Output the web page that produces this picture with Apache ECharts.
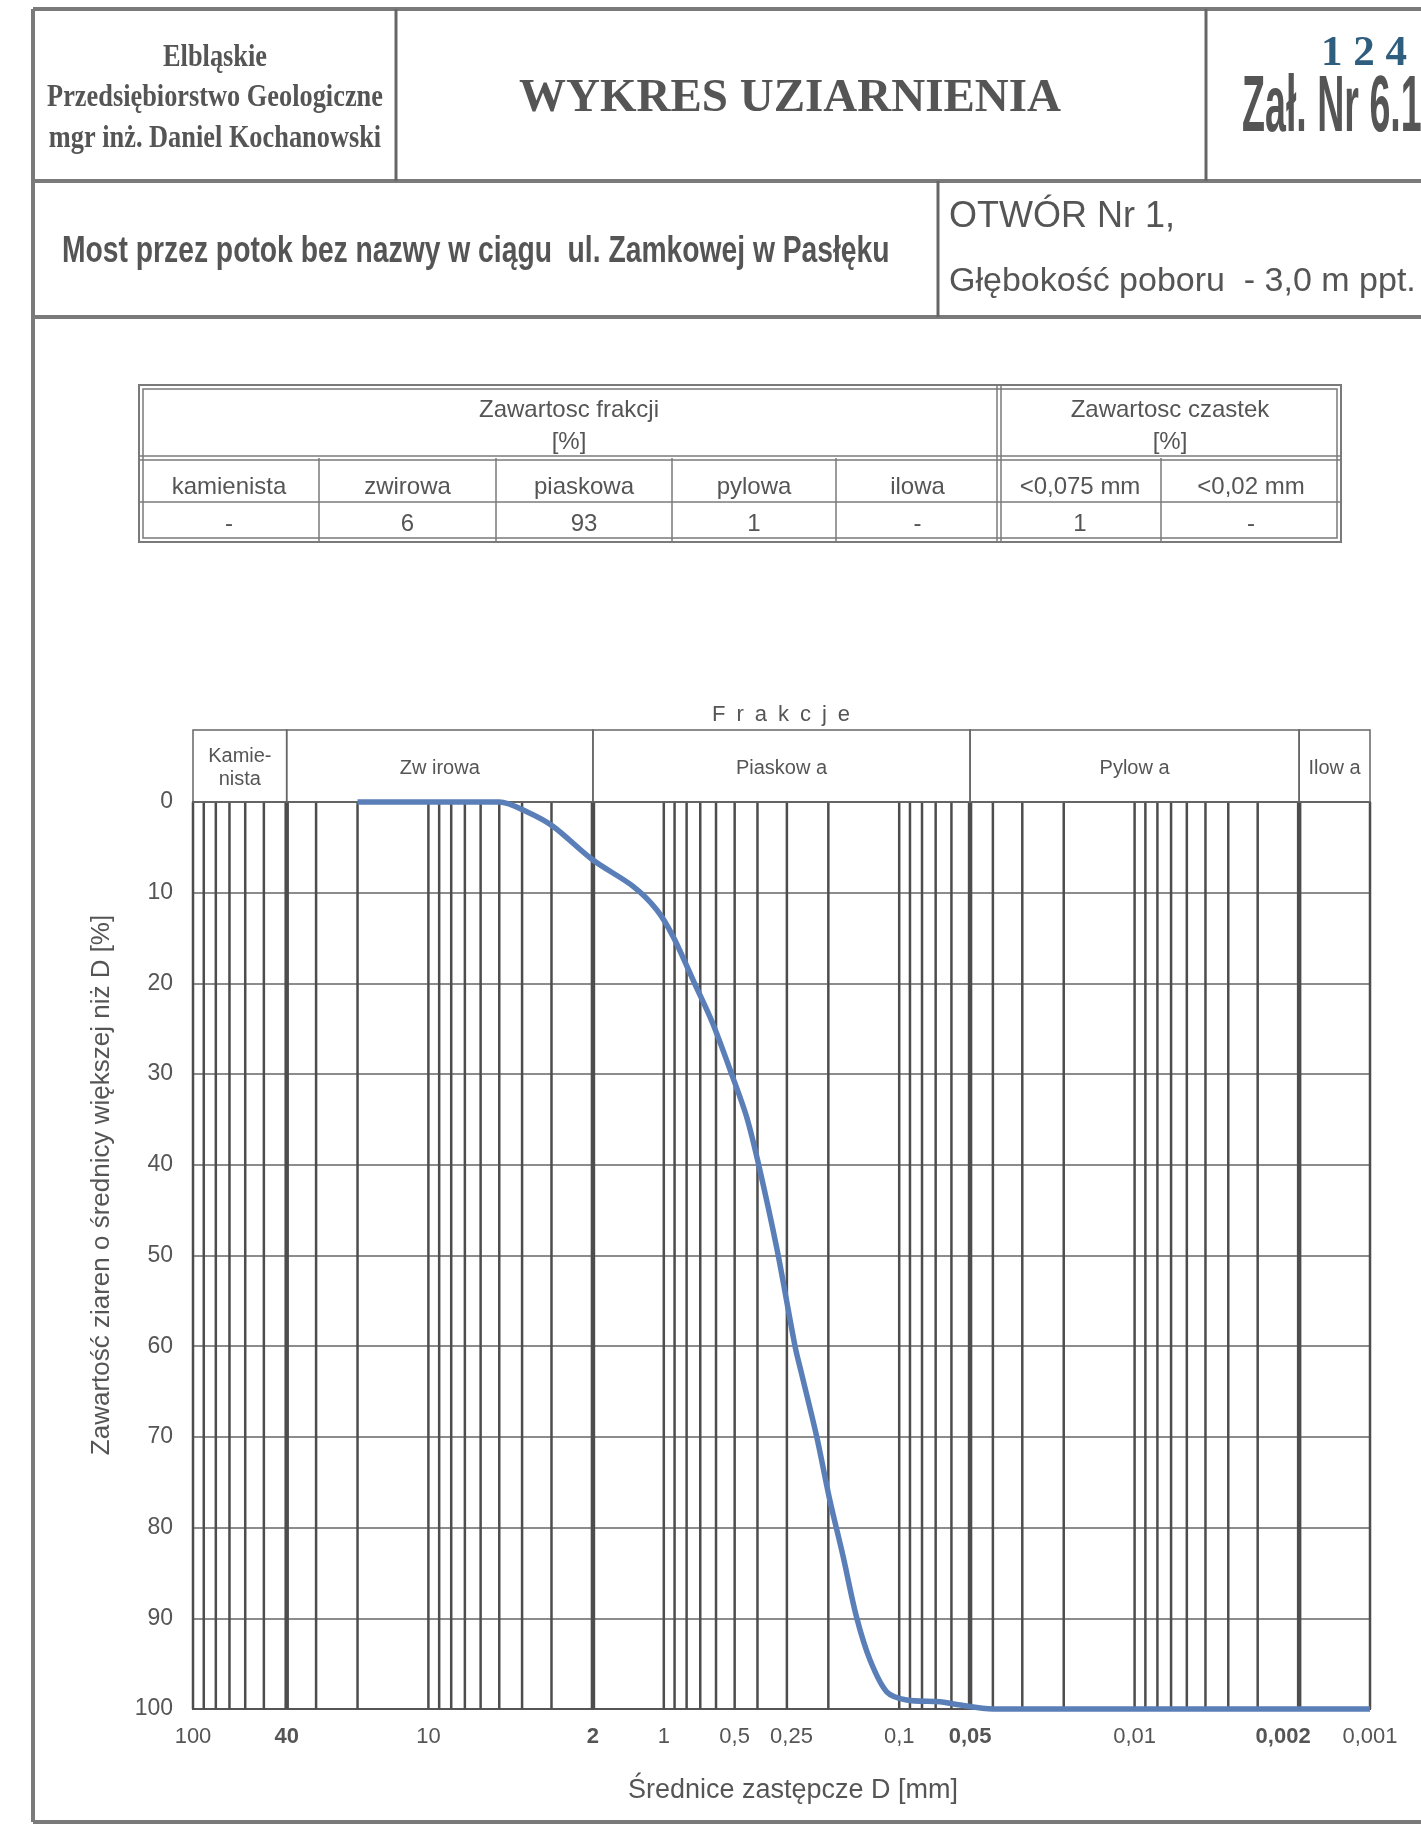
<!DOCTYPE html>
<html>
<head>
<meta charset="utf-8">
<script src="https://cdn.jsdelivr.net/npm/echarts@6/dist/echarts.min.js"></script>
<style>
  html, body { margin: 0; padding: 0; background: #fff; }
  #chart { width: 1421px; height: 1824px; }
</style>
</head>
<body>
<div id="chart"></div>
<script>
// --- dane ---
const fractionHeads = ["kamienista", "zwirowa", "piaskowa", "pylowa", "ilowa"];
const fractionValues = ["-", "6", "93", "1", "-"];
const particleHeads = ["<0,075 mm", "<0,02 mm"];
const particleValues = ["1", "-"];

const bandEdges = [100, 40, 2, 0.05, 0.002, 0.001];
const bandNames = ["Kamie-\nnista", "Zw irowa", "Piaskow a", "Pylow a", "Ilow a"];

// średnica D [mm] i zawartość ziaren większych niż D [%]
const curveD = [20, 5, 3.8, 2.95, 2, 1.35, 1.07, 0.91, 0.74, 0.62, 0.51, 0.445, 0.397, 0.33,
  0.277, 0.26, 0.224, 0.197, 0.173, 0.152, 0.133, 0.113, 0.093, 0.067, 0.057, 0.04, 0.001];
const curvePct = [0, 0, 1.1, 2.7, 6.4, 9.3, 11.9, 14.9, 20, 24.4, 30.3, 34.7, 39.8, 49.4,
  60, 63, 70, 77, 83.2, 89.8, 94.6, 98.1, 99, 99.2, 99.5, 100, 100];

const gridValues = [100, 90, 80, 70, 60, 50, 40, 30, 20,
  10, 9, 8, 7, 6, 5, 4, 3, 2,
  1, 0.9, 0.8, 0.7, 0.6, 0.5, 0.4, 0.3, 0.2,
  0.1, 0.09, 0.08, 0.07, 0.06, 0.05, 0.04, 0.03, 0.02,
  0.01, 0.009, 0.008, 0.007, 0.006, 0.005, 0.004, 0.003, 0.002, 0.001];
const thickValues = [40, 2, 0.05, 0.002];

const tickValues = [100, 40, 10, 2, 1, 0.5, 0.25, 0.1, 0.05, 0.01, 0.002, 0.001];
const tickLabels = ["100", "40", "10", "2", "1", "0,5", "0,25", "0,1", "0,05", "0,01", "0,002", "0,001"];
const boldTicks = [40, 2, 0.05, 0.002];

// --- style ---
const SANS = '"Liberation Sans", Arial, sans-serif';
const SERIF = '"Liberation Serif", "Times New Roman", serif';
const TXT = "#555";
const FRAME = "#7a7a7a";
const labelShift = { 0.25: -14, 0.002: -16 };

const chart = echarts.init(document.getElementById("chart"));

const txt = (text, x, y, size, opts = {}) => ({
  type: "text", x, y, scaleX: opts.scaleX || 1, rotation: opts.rotation || 0, silent: true,
  style: {
    text, fill: opts.fill || TXT, fontSize: size, fontFamily: opts.family || SANS,
    fontWeight: opts.weight || "normal", align: opts.align || "center",
    verticalAlign: "middle", lineHeight: opts.lineHeight,
  },
});
const ln = (x1, y1, x2, y2, w, c) => ({
  type: "line", silent: true, shape: { x1, y1, x2, y2 },
  style: { stroke: c || FRAME, lineWidth: w || 2 },
});

// nagłówek
const graphics = [
  ln(33, 9, 33, 1822, 4), ln(33, 9, 1421, 9, 4), ln(33, 181, 1421, 181, 4),
  ln(33, 317, 1421, 317, 4), ln(33, 1822, 1421, 1822, 4),
  ln(396, 9, 396, 181, 3, "#666"), ln(1206, 9, 1206, 181, 3, "#666"), ln(938, 181, 938, 317, 3, "#666"),
  txt("Elbląskie", 215, 58, 31, { family: SERIF, weight: "bold", scaleX: 0.85 }),
  txt("Przedsiębiorstwo Geologiczne", 215, 98, 31, { family: SERIF, weight: "bold", scaleX: 0.85 }),
  txt("mgr inż. Daniel Kochanowski", 215, 139, 31, { family: SERIF, weight: "bold", scaleX: 0.85 }),
  txt("WYKRES UZIARNIENIA", 790, 99, 47, { family: SERIF, weight: "bold" }),
  txt("1 2 4", 1364, 54, 43, { family: SERIF, weight: "bold", fill: "#2f5d7e" }),
  txt("Zał. Nr 6.1", 1242, 109, 80, { weight: "bold", align: "left", scaleX: 0.47 }),
  txt("Most przez potok bez nazwy w ciągu  ul. Zamkowej w Pasłęku", 62, 252, 36,
    { weight: "bold", align: "left", scaleX: 0.785 }),
  txt("OTWÓR Nr 1,", 949, 217, 36, { align: "left" }),
  txt("Głębokość poboru  - 3,0 m ppt.", 949, 282, 34, { align: "left" }),
  txt("F\u2002r\u2002a\u2002k\u2002c\u2002j\u2002e", 781, 715, 22),
  txt("Zawartość ziaren o średnicy większej niż D [%]", 102, 1185, 26, { rotation: Math.PI / 2 }),
  txt("Średnice zastępcze D [mm]", 793, 1791, 27),
];

// tabela
const T = { l: 139, r: 1341, t: 385, h1: 458, h2: 502, b: 542 };
const cols = [139, 319, 496, 672, 836, 999, 1161, 1341];
graphics.push(
  { type: "rect", silent: true, shape: { x: T.l, y: T.t, width: T.r - T.l, height: T.b - T.t },
    style: { fill: "none", stroke: FRAME, lineWidth: 2 } },
  { type: "rect", silent: true, shape: { x: T.l + 4, y: T.t + 4, width: T.r - T.l - 8, height: T.b - T.t - 8 },
    style: { fill: "none", stroke: FRAME, lineWidth: 1.5 } },
  ln(T.l, T.h1 - 2, T.r, T.h1 - 2, 1.5), ln(T.l, T.h1 + 2, T.r, T.h1 + 2, 1.5),
  ln(T.l, T.h2, T.r, T.h2, 1.5),
  ln(cols[5] - 2, T.t, cols[5] - 2, T.b, 1.5), ln(cols[5] + 2, T.t, cols[5] + 2, T.b, 1.5)
);
[1, 2, 3, 4, 6].forEach((i) => graphics.push(ln(cols[i], T.h1, cols[i], T.b, 1.5)));
graphics.push(
  txt("Zawartosc frakcji", (cols[0] + cols[5]) / 2, 410, 24),
  txt("[%]", (cols[0] + cols[5]) / 2, 442, 24),
  txt("Zawartosc czastek", (cols[5] + cols[7]) / 2, 410, 24),
  txt("[%]", (cols[5] + cols[7]) / 2, 442, 24)
);
const heads = fractionHeads.concat(particleHeads);
const vals = fractionValues.concat(particleValues);
heads.forEach((h, i) => {
  const cx = (cols[i] + cols[i + 1]) / 2;
  graphics.push(txt(h, cx, 487, 24), txt(vals[i], cx, 524, 24));
});

const option = {
  animation: false,
  backgroundColor: "#fff",
  graphic: graphics,
  grid: [
    { left: 193, top: 802, width: 1177, height: 907, show: true, borderColor: "#555", borderWidth: 2 },
    { left: 193, top: 730, width: 1177, height: 72 },
  ],
  xAxis: [
    {
      type: "log", logBase: 10, min: 0.001, max: 100, inverse: true, gridIndex: 0,
      axisLine: { show: true, onZero: false, lineStyle: { color: "#555", width: 2 } },
      axisTick: { show: false }, axisLabel: { show: false }, splitLine: { show: false },
    },
    { type: "log", logBase: 10, min: 0.001, max: 100, inverse: true, gridIndex: 1, show: false },
  ],
  yAxis: [
    {
      type: "value", min: 0, max: 100, interval: 10, inverse: true, gridIndex: 0,
      axisLine: { show: true, onZero: false, lineStyle: { color: "#555", width: 2 } },
      axisTick: { show: false },
      axisLabel: { fontSize: 23, color: TXT, fontFamily: SANS, margin: 20 },
      splitLine: { show: true, lineStyle: { color: "#666", width: 1.5 } },
    },
    { type: "value", min: 0, max: 1, gridIndex: 1, show: false },
  ],
  series: [
    {
      // pionowe linie siatki
      type: "custom", xAxisIndex: 0, yAxisIndex: 0, z: 1, silent: true,
      data: gridValues.map((v) => [v, thickValues.includes(v) ? 1 : 0]),
      renderItem: (params, api) => {
        const a = api.coord([api.value(0), 0]);
        const b = api.coord([api.value(0), 100]);
        return {
          type: "line", shape: { x1: a[0], y1: a[1], x2: b[0], y2: b[1] },
          style: { stroke: "#4d4d4d", lineWidth: api.value(1) ? 4.5 : 2.5 },
        };
      },
    },
    {
      // opisy osi X
      type: "custom", xAxisIndex: 0, yAxisIndex: 0, z: 3, silent: true,
      data: tickValues.map((v) => [v, 100]),
      renderItem: (params, api) => {
        const v = tickValues[params.dataIndex];
        const p = api.coord([v, 100]);
        return {
          type: "text", x: p[0] + (labelShift[v] || 0), y: p[1] + 17,
          style: {
            text: tickLabels[params.dataIndex], fill: TXT, fontSize: 22, fontFamily: SANS,
            fontWeight: boldTicks.includes(v) ? "bold" : "normal",
            align: "center", verticalAlign: "top",
          },
        };
      },
    },
    {
      // frakcje
      type: "custom", xAxisIndex: 1, yAxisIndex: 1, z: 3, silent: true,
      encode: { x: [0, 1] },
      data: bandNames.map((n, i) => [bandEdges[i], bandEdges[i + 1]]),
      renderItem: (params, api) => {
        const a = api.coord([api.value(0), 1]);
        const b = api.coord([api.value(1), 0]);
        return {
          type: "group",
          children: [
            { type: "rect", shape: { x: a[0], y: a[1], width: b[0] - a[0], height: b[1] - a[1] },
              style: { fill: "none", stroke: "#666", lineWidth: 1.5 } },
            { type: "text", x: (a[0] + b[0]) / 2, y: (a[1] + b[1]) / 2 + 2,
              style: { text: bandNames[params.dataIndex], fill: TXT, fontSize: 20, fontFamily: SANS,
                align: "center", verticalAlign: "middle", lineHeight: 23 } },
          ],
        };
      },
    },
    {
      type: "line", xAxisIndex: 0, yAxisIndex: 0, z: 5, clip: false,
      data: curveD.map((d, i) => [d, curvePct[i]]),
      showSymbol: false, smooth: 0.3,
      lineStyle: { color: "#5a7fb8", width: 5.5 },
    },
  ],
};

chart.setOption(option);
</script>
</body>
</html>
